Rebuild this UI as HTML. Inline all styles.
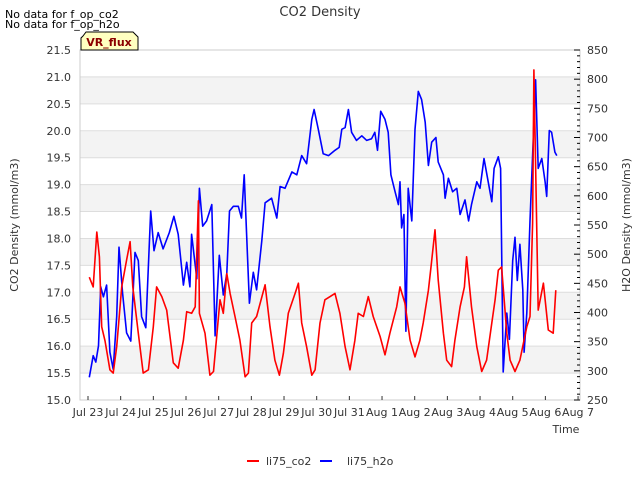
<!DOCTYPE html>
<html><head><meta charset="utf-8"><style>
body{margin:0;background:#fff;font-family:"Liberation Sans","DejaVu Sans",sans-serif}
svg text{font-family:"DejaVu Sans","Liberation Sans",sans-serif}
</style></head><body>
<svg id="chart" width="640" height="480" xmlns="http://www.w3.org/2000/svg">
<rect x="0" y="0" width="640" height="480" fill="#fff"/>
<g id="bands"></g>
<g id="grid"></g>
<rect x="80" y="50" width="500" height="350" fill="none" stroke="#ccc"/>
<g id="series"></g>
<g id="axes"></g>
<text x="320" y="16" text-anchor="middle" font-size="13" fill="#333">CO2 Density</text>
<text x="5" y="18" font-size="11" fill="#000">No data for f_op_co2</text>
<text x="5" y="28" font-size="11" fill="#000">No data for f_op_h2o</text>
<path d="M83,36 L86,32 L133,32 L138,37 L138,50 L81,50 L81,38 Z" fill="#ffffc0" stroke="#000" stroke-width="1"/>
<text x="109" y="46" text-anchor="middle" font-size="11" font-weight="bold" fill="#8b0000">VR_flux</text>
<text transform="translate(18,225) rotate(-90)" text-anchor="middle" font-size="11" fill="#333">CO2 Density (mmol/m3)</text>
<text transform="translate(630,225) rotate(-90)" text-anchor="middle" font-size="11" fill="#333">H2O Density (mmol/m3)</text>
<text x="566" y="433" text-anchor="middle" font-size="11" fill="#333">Time</text>
<g>
<line x1="247" y1="461" x2="259" y2="461" stroke="#f00" stroke-width="2"/>
<text x="266" y="465" font-size="11" fill="#333">li75_co2</text>
<line x1="320" y1="461" x2="332" y2="461" stroke="#00f" stroke-width="2"/>
<text x="347" y="465" font-size="11" fill="#333">li75_h2o</text>
</g>
</svg>
<script>
const xTickLabels=["Jul 23","Jul 24","Jul 25","Jul 26","Jul 27","Jul 28","Jul 29","Jul 30","Jul 31","Aug 1","Aug 2","Aug 3","Aug 4","Aug 5","Aug 6","Aug 7"];
const leftTicks=[15.0,15.5,16.0,16.5,17.0,17.5,18.0,18.5,19.0,19.5,20.0,20.5,21.0,21.5];
const rightTicks=[250,300,350,400,450,500,550,600,650,700,750,800,850];
const co2Days=[0.04,0.16,0.27,0.35,0.42,0.52,0.67,0.77,0.88,1.03,1.18,1.29,1.37,1.54,1.69,1.85,2.00,2.10,2.26,2.41,2.61,2.76,2.92,3.02,3.17,3.28,3.38,3.41,3.58,3.73,3.84,3.94,4.04,4.14,4.25,4.35,4.50,4.65,4.81,4.91,5.01,5.16,5.42,5.57,5.72,5.86,5.98,6.13,6.34,6.44,6.54,6.69,6.85,6.95,7.10,7.25,7.41,7.56,7.71,7.87,8.02,8.17,8.27,8.43,8.58,8.73,8.94,9.09,9.24,9.45,9.55,9.70,9.86,10.01,10.16,10.26,10.42,10.50,10.62,10.72,10.88,10.98,11.13,11.23,11.39,11.52,11.59,11.74,11.90,12.05,12.20,12.36,12.46,12.56,12.66,12.82,12.92,13.07,13.22,13.43,13.53,13.61,13.65,13.78,13.94,14.09,14.24,14.32];
const co2Values=[17.28,17.1,18.12,17.66,16.36,16.1,15.56,15.5,15.99,17.1,17.6,17.94,17.1,16.24,15.5,15.56,16.36,17.1,16.92,16.67,15.69,15.59,16.11,16.64,16.61,16.73,18.7,16.61,16.24,15.46,15.53,16.18,16.86,16.61,17.35,16.98,16.55,16.11,15.43,15.5,16.43,16.55,17.14,16.36,15.74,15.46,15.87,16.61,16.98,17.17,16.43,15.99,15.46,15.56,16.43,16.86,16.92,16.98,16.61,15.99,15.56,16.11,16.61,16.55,16.92,16.55,16.18,15.84,16.24,16.73,17.1,16.8,16.11,15.8,16.11,16.43,17.04,17.47,18.16,17.23,16.24,15.74,15.62,16.11,16.73,17.1,17.66,16.73,15.99,15.53,15.74,16.43,16.86,17.41,17.47,16.24,15.74,15.53,15.74,16.36,16.55,18.28,21.13,16.67,17.17,16.3,16.24,17.04,17.05];
const h2oDays=[0.04,0.16,0.24,0.32,0.39,0.47,0.57,0.67,0.77,0.88,0.95,1.06,1.18,1.31,1.44,1.54,1.64,1.77,1.92,2.02,2.15,2.30,2.49,2.63,2.76,2.92,3.02,3.12,3.17,3.33,3.41,3.51,3.63,3.79,3.89,4.02,4.14,4.25,4.33,4.45,4.60,4.70,4.78,4.94,5.06,5.16,5.32,5.42,5.62,5.78,5.88,6.03,6.24,6.39,6.54,6.69,6.85,6.92,7.05,7.20,7.36,7.56,7.69,7.77,7.87,7.97,8.07,8.22,8.38,8.53,8.68,8.78,8.86,8.96,9.09,9.19,9.27,9.40,9.50,9.55,9.60,9.67,9.73,9.80,9.91,10.01,10.11,10.21,10.32,10.42,10.52,10.65,10.72,10.88,10.93,11.03,11.16,11.29,11.39,11.54,11.65,11.74,11.90,12.00,12.12,12.25,12.36,12.43,12.56,12.63,12.71,12.82,12.90,13.00,13.07,13.14,13.22,13.31,13.35,13.43,13.53,13.70,13.78,13.89,13.99,14.04,14.12,14.19,14.29,14.35];
const h2oValues=[289,326,315,343,444,427,447,332,303,393,512,433,365,351,503,489,393,374,574,506,537,509,537,565,534,447,486,444,534,458,613,548,557,585,360,498,430,467,574,582,582,562,636,416,469,439,523,588,596,562,616,613,641,636,669,655,731,748,714,672,669,678,683,714,717,748,709,695,703,695,698,709,678,745,731,709,636,607,585,624,545,568,368,613,557,714,779,765,726,652,692,700,658,636,596,630,607,613,568,593,557,585,624,613,664,624,590,647,667,647,298,399,354,489,529,455,517,439,332,399,557,799,647,664,624,599,712,709,675,669];

const X0=88,DX=32.67,TOP=50,BOT=400,L=80,R=580;
function xDay(d){return X0+d*DX;}
function yLeft(v){return BOT-(v-15)/(21.5-15)*(BOT-TOP);}
function yRight(v){return BOT-(v-250)/(850-250)*(BOT-TOP);}
const NS="http://www.w3.org/2000/svg";
function mk(tag,attrs,parent){const e=document.createElementNS(NS,tag);for(const k in attrs)e.setAttribute(k,attrs[k]);parent.appendChild(e);return e;}
const bands=document.getElementById('bands'),grid=document.getElementById('grid'),axes=document.getElementById('axes'),series=document.getElementById('series');
for(let i=0;i<leftTicks.length-1;i++){
  if(i%2===1){
    const r=mk('rect',{x:L,y:yLeft(leftTicks[i+1]),width:R-L,height:yLeft(leftTicks[i])-yLeft(leftTicks[i+1]),fill:'#f3f3f3'},bands);
    
    
  }
}
leftTicks.forEach(v=>{
  const y=yLeft(v);
  const g=mk('line',{x1:L,x2:R,y1:y,y2:y,stroke:'#ddd'},grid);
  
  
  const t=mk('text',{x:71,y:y+4,'text-anchor':'end','font-size':11,fill:'#333'},axes);
  t.textContent=v.toFixed(1);
  
  
});
rightTicks.forEach(v=>{
  const y=yRight(v);
  const t=mk('text',{x:587,y:y+4,'font-size':11,fill:'#333'},axes);
  t.textContent=v;
  
  
  const tk=mk('line',{x1:R-6,x2:R,y1:y,y2:y,stroke:'#000'},axes);
  
  
});
for(let v=260;v<850;v+=10){
  if(v%50===0)continue;
  const y=yRight(v);
  const tk=mk('line',{x1:R-3,x2:R,y1:y,y2:y,stroke:'#000'},axes);
  
  
}
xTickLabels.forEach((s,i)=>{
  const x=xDay(i);
  const tk=mk('line',{x1:x,x2:x,y1:BOT,y2:BOT-4,stroke:'#333'},axes);
  
  
  const t=mk('text',{x:x,y:416,'text-anchor':'middle','font-size':11,fill:'#333'},axes);
  t.textContent=s;
  
  
});
const h=mk('polyline',{points:h2oDays.map((d,i)=>xDay(d).toFixed(1)+','+yRight(h2oValues[i]).toFixed(1)).join(' '),fill:'none',stroke:'#00f','stroke-width':1.6,'stroke-linejoin':'round'},series);


const c=mk('polyline',{points:co2Days.map((d,i)=>xDay(d).toFixed(1)+','+yLeft(co2Values[i]).toFixed(1)).join(' '),fill:'none',stroke:'#f00','stroke-width':1.6,'stroke-linejoin':'round'},series);


</script>
</body></html>
